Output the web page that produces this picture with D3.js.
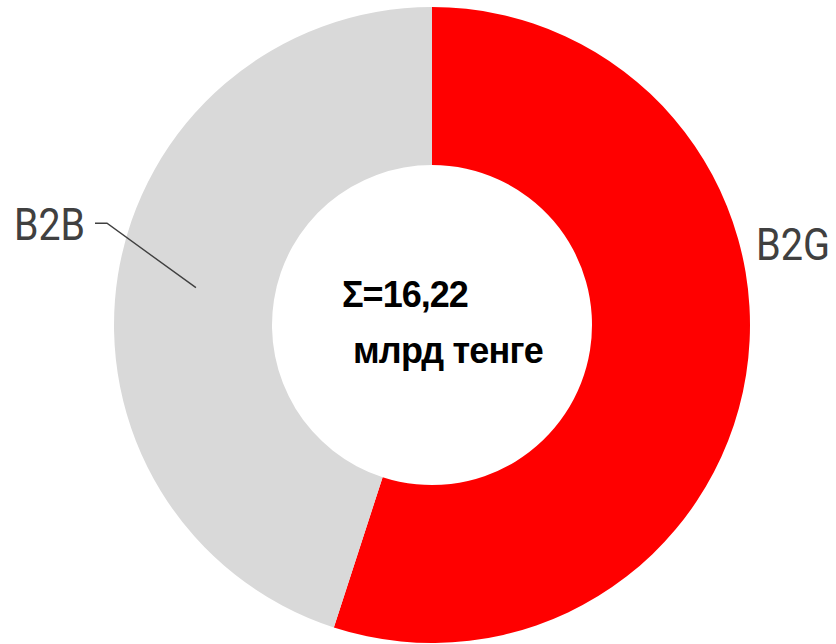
<!DOCTYPE html>
<html>
<head>
<meta charset="utf-8">
<script src="https://cdn.jsdelivr.net/npm/d3@7"></script>
<style>
  html, body { margin: 0; padding: 0; background: #ffffff; }
  svg { display: block; }
</style>
</head>
<body>
<svg id="chart" width="836" height="644"></svg>
<script>
const categories = ["B2G", "B2B"];
const values = [8.92, 7.30];
const colors = ["#ff0000", "#d9d9d9"];
const totalLabel = "Σ=16,22";
const unitLabel = "млрд тенге";

const svg = d3.select("#chart");
const cx = 432, cy = 325, rOuter = 318, rInner = 160;

const data = categories.map((c, i) => ({ name: c, value: values[i], color: colors[i] }));
const pie = d3.pie().sort(null).value(d => d.value).startAngle(0).endAngle(2 * Math.PI);
const arcs = pie(data);
const arc = d3.arc().innerRadius(rInner).outerRadius(rOuter);

const g = svg.append("g").attr("transform", `translate(${cx},${cy})`);
g.selectAll("path.slice")
  .data(arcs)
  .enter().append("path")
  .attr("class", "slice")
  .attr("d", arc)
  .attr("fill", d => d.data.color);

// Leader line for B2B
const b2b = arcs[1];
const c2 = arc.centroid(b2b);
const p2 = [cx + c2[0], cy + c2[1]];
svg.append("polyline")
  .attr("points", [[95, 223.3], [107, 223.3], p2].map(p => p.join(",")).join(" "))
  .attr("fill", "none")
  .attr("stroke", "#404040")
  .attr("stroke-width", 1.4);

const labelFont = "Roboto, 'Liberation Sans', sans-serif";
svg.append("text")
  .attr("x", 14).attr("y", 240)
  .attr("font-family", labelFont)
  .attr("font-size", 44)
  .attr("textLength", 71)
  .attr("lengthAdjust", "spacingAndGlyphs")
  .attr("fill", "#404040")
  .text(categories[1]);

svg.append("text")
  .attr("x", 756).attr("y", 260)
  .attr("font-family", labelFont)
  .attr("font-size", 44)
  .attr("textLength", 74)
  .attr("lengthAdjust", "spacingAndGlyphs")
  .attr("fill", "#404040")
  .text(categories[0]);

const centerFont = "'Liberation Sans', Arial, sans-serif";
svg.append("text")
  .attr("x", 342).attr("y", 307)
  .attr("font-family", centerFont)
  .attr("font-weight", "bold")
  .attr("font-size", 36)
  .attr("letter-spacing", -1)
  .attr("fill", "#000000")
  .text(totalLabel);

svg.append("text")
  .attr("x", 353).attr("y", 363)
  .attr("font-family", centerFont)
  .attr("font-weight", "bold")
  .attr("font-size", 36)
  .attr("letter-spacing", -0.8)
  .attr("fill", "#000000")
  .text(unitLabel);
</script>
</body>
</html>
